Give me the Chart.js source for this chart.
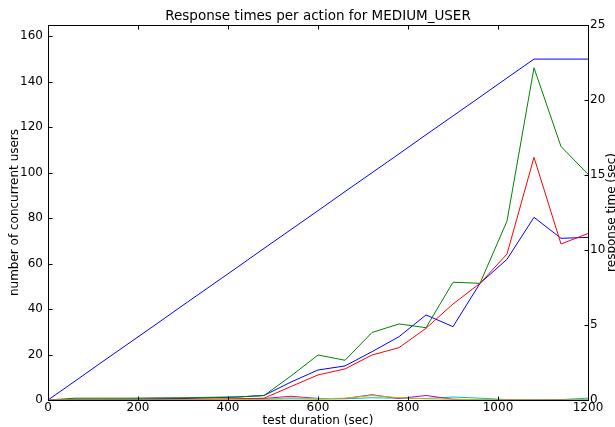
<!DOCTYPE html>
<html>
<head>
<meta charset="utf-8">
<script src="https://cdn.jsdelivr.net/npm/chart.js@4.4.1/dist/chart.umd.min.js"></script>
<style>
  html, body { margin: 0; padding: 0; background: #fff; }
  #chart { display: block; }
</style>
</head>
<body>
<canvas id="chart" width="615" height="427"></canvas>
<script>
// test duration (sec), one sample per minute
const times = [0, 60, 120, 180, 240, 300, 360, 420, 480, 540, 600, 660, 720, 780, 840, 900, 960, 1020, 1080, 1140, 1200];

// number of concurrent users (left axis)
const users = [0, 8.3, 16.7, 25, 33.3, 41.7, 50, 58.3, 66.7, 75, 83.3, 91.7, 100, 108.3, 116.7, 125, 133.3, 141.7, 150, 150, 150];

// response times per action, seconds (right axis)
const respBlue    = [0, 0.05, 0.05, 0.06, 0.08, 0.1, 0.15, 0.2, 0.3, 1.2, 2.0, 2.27, 3.22, 4.22, 5.67, 4.89, 7.78, 9.38, 12.18, 10.78, 10.84];
const respGreen   = [0, 0.12, 0.12, 0.12, 0.14, 0.15, 0.18, 0.2, 0.3, 1.6, 3.0, 2.65, 4.5, 5.07, 4.82, 7.85, 7.78, 11.93, 22.15, 16.9, 15.05];
const respRed     = [0, 0.03, 0.03, 0.03, 0.04, 0.05, 0.06, 0.08, 0.12, 0.9, 1.67, 2.07, 3.0, 3.49, 4.78, 6.4, 7.78, 9.73, 16.18, 10.4, 11.1];
const respCyan    = [0, 0, 0, 0, 0, 0.01, 0.02, 0.03, 0.05, 0.08, 0.06, 0.08, 0.15, 0.12, 0.1, 0.2, 0.12, 0.03, 0.01, 0.03, 0.12];
const respMagenta = [0, 0, 0, 0, 0, 0.02, 0.03, 0.05, 0.1, 0.25, 0.1, 0.1, 0.35, 0.1, 0.3, 0.05, 0, 0, 0, 0, 0];
const respYellow  = [0, 0, 0, 0, 0, 0.02, 0.02, 0.03, 0.05, 0.15, 0.08, 0.12, 0.3, 0.15, 0.08, 0.05, 0.02, 0.01, 0, 0, 0.02];

// tick labels
const xTicks = [0, 200, 400, 600, 800, 1000, 1200];
const usersTicks = [0, 20, 40, 60, 80, 100, 120, 140, 160];
const respTicks = [0, 5, 10, 15, 20, 25];

const FONT = "'DejaVu Sans', sans-serif";

function toPoints(values) {
    return values.map((v, i) => ({ x: times[i], y: v }));
}

function lineSet(label, values, color, axis) {
    return {
        label: label,
        data: toPoints(values),
        borderColor: color,
        backgroundColor: color,
        borderWidth: 1,
        pointRadius: 0,
        tension: 0,
        fill: false,
        yAxisID: axis
    };
}

// frame, inward tick marks, title and axis titles, matplotlib style
const framePlugin = {
    id: 'frame',
    afterDraw(chart) {
        const ctx = chart.ctx;
        const { left, right, top, bottom } = chart.chartArea;
        const { x, yUsers, yResp } = chart.scales;
        const L = Math.round(left) + 0.5, R = Math.round(right) + 0.5;
        const T = Math.round(top) + 0.5, B = Math.round(bottom) + 0.5;
        const tl = 4;

        ctx.save();
        ctx.strokeStyle = '#000';
        ctx.lineWidth = 1;
        ctx.strokeRect(L, T, R - L, B - T);

        ctx.beginPath();
        xTicks.forEach(v => {
            const px = Math.round(x.getPixelForValue(v)) + 0.5;
            ctx.moveTo(px, B); ctx.lineTo(px, B - tl);
            ctx.moveTo(px, T); ctx.lineTo(px, T + tl);
        });
        usersTicks.forEach(v => {
            const py = Math.round(yUsers.getPixelForValue(v)) + 0.5;
            ctx.moveTo(L, py); ctx.lineTo(L + tl, py);
        });
        respTicks.forEach(v => {
            const py = Math.round(yResp.getPixelForValue(v)) + 0.5;
            ctx.moveTo(R, py); ctx.lineTo(R - tl, py);
        });
        ctx.stroke();

        ctx.fillStyle = '#000';
        ctx.textAlign = 'center';
        ctx.textBaseline = 'middle';
        const midX = (left + right) / 2;
        const midY = (top + bottom) / 2;

        // title is centred over the plot, not the canvas
        ctx.font = '13.5px ' + FONT;
        ctx.fillText('Response times per action for MEDIUM_USER', midX, 16);

        ctx.font = '12px ' + FONT;
        ctx.fillText('test duration (sec)', midX, 421);

        ctx.save();
        ctx.translate(15, midY);
        ctx.rotate(-Math.PI / 2);
        ctx.fillText('number of concurrent users', 0, 0);
        ctx.restore();

        // the right title runs off the canvas edge, as in the original
        ctx.save();
        ctx.translate(612, midY);
        ctx.rotate(-Math.PI / 2);
        ctx.fillText('response time (sec)', 0, 0);
        ctx.restore();

        ctx.restore();
    }
};

const plainTick = value => String(value);

const canvas = document.getElementById('chart');

new Chart(canvas, {
    type: 'line',
    data: {
        datasets: [
            lineSet('action 6', respYellow, '#bfbf00', 'yResp'),
            lineSet('action 5', respMagenta, '#bf00bf', 'yResp'),
            lineSet('action 4', respCyan, '#00bfbf', 'yResp'),
            lineSet('action 3', respRed, '#ff0000', 'yResp'),
            lineSet('action 2', respGreen, '#008000', 'yResp'),
            lineSet('action 1', respBlue, '#0000ff', 'yResp'),
            lineSet('concurrent users', users, '#0000ff', 'yUsers')
        ]
    },
    options: {
        responsive: false,
        animation: false,
        events: [],
        layout: { padding: { top: 25, left: 0, right: 0, bottom: 0 } },
        plugins: {
            legend: { display: false },
            tooltip: { enabled: false },
            title: { display: false }
        },
        scales: {
            x: {
                type: 'linear',
                min: 0,
                max: 1200,
                grid: { display: false, drawTicks: false },
                border: { display: false },
                afterBuildTicks: axis => { axis.ticks = xTicks.map(v => ({ value: v })); },
                afterFit: axis => { axis.height = 27; },
                ticks: {
                    color: '#000',
                    font: { family: FONT, size: 12 },
                    padding: 1,
                    maxRotation: 0,
                    autoSkip: false,
                    callback: plainTick
                }
            },
            yUsers: {
                type: 'linear',
                position: 'left',
                min: 0,
                max: 165,
                grid: { display: false, drawTicks: false },
                border: { display: false },
                afterBuildTicks: axis => { axis.ticks = usersTicks.map(v => ({ value: v })); },
                afterFit: axis => { axis.width = 48; },
                ticks: {
                    color: '#000',
                    font: { family: FONT, size: 12 },
                    padding: 5,
                    autoSkip: false,
                    callback: plainTick
                }
            },
            yResp: {
                type: 'linear',
                position: 'right',
                min: 0,
                max: 25,
                grid: { display: false, drawTicks: false },
                border: { display: false },
                afterBuildTicks: axis => { axis.ticks = respTicks.map(v => ({ value: v })); },
                afterFit: axis => { axis.width = 27; },
                ticks: {
                    color: '#000',
                    font: { family: FONT, size: 12 },
                    padding: 2,
                    autoSkip: false,
                    callback: plainTick
                }
            }
        }
    },
    plugins: [framePlugin]
});
</script>
</body>
</html>
